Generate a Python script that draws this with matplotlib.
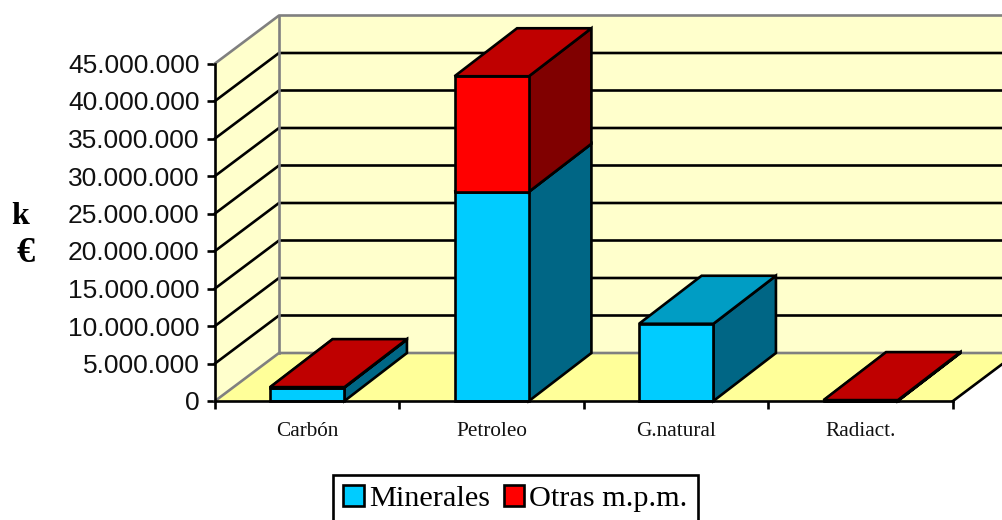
import matplotlib
matplotlib.use('Agg')
import matplotlib.pyplot as plt
from matplotlib.patches import Polygon, Patch

categories = ['Carbón', 'Petroleo', 'G.natural', 'Radiact.']
minerales = [1800000, 27900000, 10300000, 60000]
otras = [50000, 15400000, 0, 60000]
y_ticks = [0, 5000000, 10000000, 15000000, 20000000, 25000000, 30000000, 35000000, 40000000, 45000000]
y_labels = ['0', '5.000.000', '10.000.000', '15.000.000', '20.000.000',
            '25.000.000', '30.000.000', '35.000.000', '40.000.000', '45.000.000']

SANS = 'Liberation Sans'
SERIF = 'Liberation Serif'
LW = 1.9

# depth of the fake 3d box, in axis units
DX = 64 / 184.5
DY = 48 / 7.5 * 1e6
BAR_DX = 62.5 / 184.5
BAR_W = 0.403

fig = plt.figure(figsize=(10.03, 5.2), dpi=100, facecolor='white')
ax = fig.add_axes([215 / 1003, (520 - 401) / 520, (953 - 215) / 1003, 337.5 / 520])
ax.set_xlim(0, 4)
ax.set_ylim(0, 45000000)
ax.patch.set_visible(False)
for s in ['top', 'right']:
    ax.spines[s].set_visible(False)
for s in ['left', 'bottom']:
    ax.spines[s].set_linewidth(LW)
    ax.spines[s].set_zorder(6)


def poly(points, face, edge='black', lw=LW, z=5):
    ax.add_patch(Polygon(points, closed=True, facecolor=face, edgecolor=edge, linewidth=lw,
                         clip_on=False, zorder=z, joinstyle='miter'))


top = y_ticks[-1]
n = len(categories)
# walls and floor
poly([(0, 0), (DX, DY), (n + DX, DY), (n, 0)], '#FFFF99', edge='none', z=1)
poly([(0, 0), (DX, DY), (DX, top + DY), (0, top)], '#FFFFCC', edge='none', z=1)
poly([(DX, DY), (n + DX, DY), (n + DX, top + DY), (DX, top + DY)], '#FFFFCC', edge='none', z=1)

for v in y_ticks[1:-1]:
    ax.plot([0, DX, n + DX], [v, v + DY, v + DY], color='black', lw=LW, clip_on=False, zorder=2)
ax.plot([0, DX, n + DX], [top, top + DY, top + DY], color='#808080', lw=LW, clip_on=False, zorder=2)
ax.plot([0, DX, n + DX], [0, DY, DY], color='#808080', lw=LW, clip_on=False, zorder=2)
ax.plot([DX, DX], [DY, top + DY], color='#808080', lw=LW, clip_on=False, zorder=2)
ax.plot([n, n + DX], [0, DY], color='black', lw=LW, clip_on=False, zorder=2)


def box(x0, y0, y1, front, lid, side, z):
    x1 = x0 + BAR_W
    poly([(x1, y0), (x1 + BAR_DX, y0 + DY), (x1 + BAR_DX, y1 + DY), (x1, y1)], side, z=z)
    poly([(x0, y0), (x1, y0), (x1, y1), (x0, y1)], front, z=z)
    poly([(x0, y1), (x1, y1), (x1 + BAR_DX, y1 + DY), (x0 + BAR_DX, y1 + DY)], lid, z=z)


for i in range(n):
    x0 = i + 0.5 - BAR_W / 2
    m = minerales[i]
    o = otras[i]
    if m > 0:
        box(x0, 0, m, '#00CCFF', '#009DC4', '#006685', 5)
    if o > 0:
        box(x0, m, m + o, '#FF0000', '#BF0000', '#800000', 5)

ax.set_yticks(y_ticks)
ax.set_yticklabels(y_labels, fontfamily=SANS, fontsize=19, color='#111111')
ax.tick_params(axis='y', length=6, width=LW, pad=5)
ax.set_xticks(range(n + 1))
ax.set_xticklabels([])
ax.tick_params(axis='x', which='major', length=6, width=LW, direction='out')
ax.set_xticks([i + 0.5 for i in range(n)], minor=True)
ax.set_xticklabels(categories, minor=True, fontfamily=SERIF, fontsize=15.3, color='#111111')
ax.tick_params(axis='x', which='minor', length=0, pad=15)

fig.text(20.5 / 1003, 1 - 216 / 520, 'k', family=SERIF, fontweight='bold', fontsize=23, ha='center', va='center')
fig.text(25.5 / 1003, 1 - 254 / 520, '€', family=SERIF, fontweight='bold', fontsize=26, ha='center', va='center')

handles = [Patch(facecolor='#00CCFF', edgecolor='black', linewidth=LW, label='Minerales'),
           Patch(facecolor='#FF0000', edgecolor='black', linewidth=LW, label='Otras m.p.m.')]
leg = fig.legend(handles=handles, loc='center left', bbox_to_anchor=(333 / 1003, 1 - 498.4 / 520),
                 ncol=2, prop={'family': SERIF, 'size': 21.8}, fancybox=False, framealpha=1,
                 edgecolor='black', handlelength=0.68, handleheight=0.7, handletextpad=0.17,
                 columnspacing=0.46, borderpad=0.33, borderaxespad=0)
leg.get_frame().set_linewidth(LW)

fig.savefig('out.png', dpi=100)
